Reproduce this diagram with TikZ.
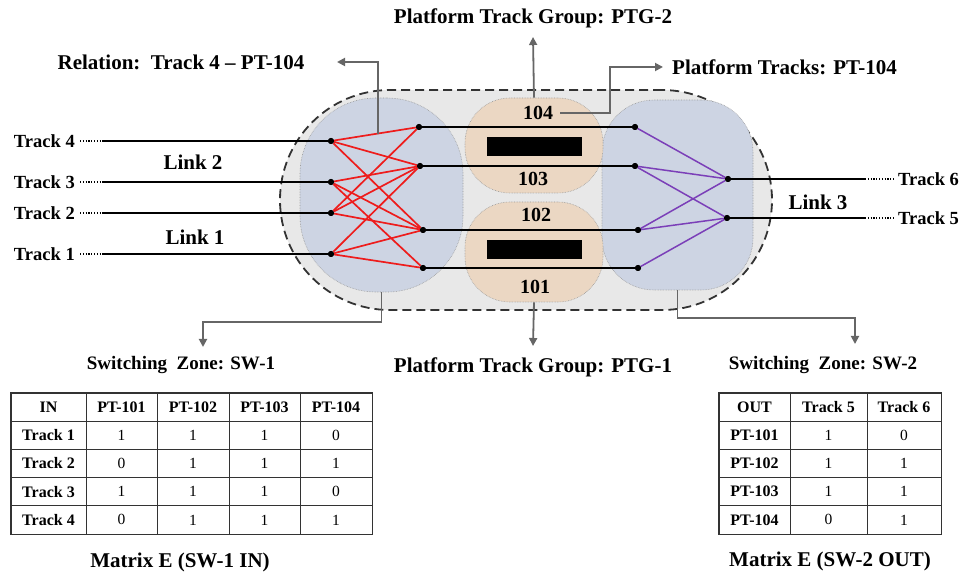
\documentclass[tikz,border=0pt]{standalone}
\usepackage{fontspec}
\setmainfont{Liberation Serif}
\usetikzlibrary{arrows.meta,matrix,calc}
\definecolor{stad}{HTML}{E8E8E8}
\definecolor{zone}{HTML}{CDD4E3}
\definecolor{ptgc}{HTML}{EBD7C3}
\definecolor{redl}{HTML}{EE1C1C}
\definecolor{purp}{HTML}{7B3FB8}
\definecolor{annot}{HTML}{666666}
\definecolor{tblc}{HTML}{333333}
\newcommand\myTh{\fontsize{16}{18}\selectfont\bfseries}
\newcommand\myTd{\fontsize{15.5}{17}\selectfont}
\newcommand\myTitle{\fontsize{21}{23}\selectfont\bfseries}
\begin{document}
\begin{tikzpicture}[x=1pt,y=-1pt,
  lbl/.style={font=\fontsize{#1}{#1}\selectfont\bfseries, inner sep=1pt},
  lbl/.default=21,
  dot/.style={circle, fill=black, inner sep=0pt, minimum size=6pt},
  track/.style={line width=1.8pt, black},
  dotline/.style={line width=1.6pt, dash pattern=on 1.2pt off 1.6pt},
  redlink/.style={line width=1.7pt, redl},
  purplink/.style={line width=1.5pt, purp},
  annotarrow/.style={line width=1.8pt, annot, -{Triangle[length=8pt,width=8pt]}},
  zonebox/.style={fill=zone, draw=gray!80, densely dotted, line width=0.6pt},
  ptgbox/.style={fill=ptgc, draw=gray!80, densely dotted, line width=0.6pt, rounded corners=45pt},
  bar/.style={fill=black, inner sep=0pt, minimum width=95pt, minimum height=19pt},
  tbl/.style={matrix of nodes, draw=tblc, line width=1.2pt, inner sep=0pt,
    column sep=-0.9pt, row sep=-0.9pt,
    nodes={draw=tblc, line width=0.9pt, minimum height=28.2pt, inner sep=0pt, anchor=center, font=\myTd},
    row 1/.style={nodes={font=\myTh}}}
]
\useasboundingbox (0,0) rectangle (962,572);

% yard outline
\node[draw=black!80, fill=stad, dashed, dash pattern=on 9pt off 5pt, line width=1.8pt,
  rounded corners=110pt, minimum width=492pt, minimum height=220pt, inner sep=0pt] (yard) at (526,200) {};

% zones
\node[zonebox, rounded corners=76pt, minimum width=163pt, minimum height=194pt, inner sep=0pt] (SW1) at (381.5,195) {};
\node[zonebox, rounded corners=52pt, minimum width=151pt, minimum height=190pt, inner sep=0pt] (SW2) at (677.5,195) {};
\node[ptgbox, minimum width=138pt, minimum height=95pt, inner sep=0pt] (PTG2) at (534,145.5) {};
\node[ptgbox, minimum width=138pt, minimum height=100pt, inner sep=0pt] (PTG1) at (534,252) {};
\node[bar] (bar2) at (534.5,146.5) {};
\node[bar] (bar1) at (534.5,249.5) {};

\node[lbl=20] (n104) at (538,113) {104};
\node[lbl=20] (n103) at (533,179) {103};
\node[lbl=20] (n102) at (536,215) {102};
\node[lbl=20] (n101) at (535,287) {101};

% dots
\node[dot] (L4) at (331,141) {};
\node[dot] (L3) at (331,182) {};
\node[dot] (L2) at (331,213) {};
\node[dot] (L1) at (331,254) {};
\node[dot] (P4) at (419,127) {};
\node[dot] (P3) at (420,166) {};
\node[dot] (P2) at (423,230) {};
\node[dot] (P1) at (423,268) {};
\node[dot] (Q4) at (635,127) {};
\node[dot] (Q3) at (635,166) {};
\node[dot] (Q2) at (638,230) {};
\node[dot] (Q1) at (638,268) {};
\node[dot] (R6) at (728,179) {};
\node[dot] (R5) at (727,218) {};

% platform track lines
\draw[track] (P4) -- (Q4);
\draw[track] (P3) -- (Q3);
\draw[track] (P2) -- (Q2);
\draw[track] (P1) -- (Q1);

% left tracks
\node[lbl=18.5, anchor=east] (T4) at (76,141) {Track 4};
\node[lbl=18.5, anchor=east] (T3) at (76,182) {Track 3};
\node[lbl=18.5, anchor=east] (T2) at (76,213) {Track 2};
\node[lbl=18.5, anchor=east] (T1) at (76,254) {Track 1};
\coordinate (t4s) at (103,141);
\coordinate (t3s) at (103,182);
\coordinate (t2s) at (103,213);
\coordinate (t1s) at (103,254);
\foreach \i in {1,2,3,4}{
  \draw[track] (t\i s) -- (L\i);
  \draw[dotline] ([xshift=4pt]T\i.east) -- (t\i s);
}

% right tracks
\node[lbl=18.5, anchor=west] (T6) at (897,179) {Track 6};
\node[lbl=18.5, anchor=west] (T5) at (897,218) {Track 5};
\coordinate (t6s) at (865,179);
\coordinate (t5s) at (865,218);
\draw[track] (R6) -- (t6s);
\draw[track] (R5) -- (t5s);
\draw[dotline] (t6s) -- ([xshift=-3pt]T6.west);
\draw[dotline] (t5s) -- ([xshift=-3pt]T5.west);

% red links (SW-1)
\foreach \a/\b in {L1/P1,L1/P2,L1/P3,L2/P2,L2/P3,L2/P4,L3/P1,L3/P2,L3/P3,L4/P2,L4/P3,L4/P4}
  \draw[redlink] (\a) -- (\b);
% purple links (SW-2)
\foreach \a/\b in {Q1/R5,Q2/R5,Q2/R6,Q3/R5,Q3/R6,Q4/R6}
  \draw[purplink] (\a) -- (\b);
% redraw dots on top
\foreach \d in {L1,L2,L3,L4,P1,P2,P3,P4,Q1,Q2,Q3,Q4,R5,R6}
  \fill (\d) circle (3pt);

% link labels
\node[lbl] (link2) at (193,162) {Link 2};
\node[lbl] (link1) at (195,237) {Link 1};
\node[lbl] (link3) at (818,202) {Link 3};

% annotations
\node[lbl] (rellbl) at (181,62) {Relation:\ \ Track 4 – PT-104};
\coordinate (relpt) at ($(L4)!0.535!(P4)$);
\coordinate (reltip) at (337,62);
\draw[annotarrow] (relpt) |- (reltip);

\node[lbl] (ptg2lbl) at (533,18) {Platform Track Group: PTG-2};
\coordinate (ptg2tip) at (533,37);
\draw[annotarrow] (PTG2.north) -- (ptg2tip);

\node[lbl, anchor=west] (ptlbl) at (671,67) {Platform Tracks: PT-104};
\coordinate (pttip) at (663,67);
\draw[annotarrow] ([xshift=6pt]n104.east) -- ++(50,0) |- (pttip);

\node[lbl=19] (sw1lbl) at (181,365) {Switching\ \ Zone: SW-1};
\coordinate (sw1tip) at (203,347);
\draw[annotarrow] (SW1.south) -- ++(0,30) -| (sw1tip);

\node[lbl] (ptg1lbl) at (533,367) {Platform Track Group: PTG-1};
\coordinate (ptg1tip) at (533,346);
\draw[annotarrow] (PTG1.south) -- (ptg1tip);

\node[lbl=19] (sw2lbl) at (823,365) {Switching\ \ Zone: SW-2};
\coordinate (sw2tip) at (855,344);
\draw[annotarrow] (SW2.south) -- ++(0,28) -| (sw2tip);

% tables
\matrix (E1) at (191.5,463.5) [tbl,
  column 1/.style={nodes={minimum width=75pt, font=\myTh}},
  column 2/.style={nodes={minimum width=71pt}},
  column 3/.style={nodes={minimum width=72pt}},
  column 4/.style={nodes={minimum width=71pt}},
  column 5/.style={nodes={minimum width=72pt}}]
{ IN & PT-101 & PT-102 & PT-103 & PT-104 \\
  Track 1 & 1 & 1 & 1 & 0 \\
  Track 2 & 0 & 1 & 1 & 1 \\
  Track 3 & 1 & 1 & 1 & 0 \\
  Track 4 & 0 & 1 & 1 & 1 \\
};
\node[font=\myTitle] (E1title) at (180,562) {Matrix E (SW-1 IN)};

\matrix (E2) at (830,463.5) [tbl,
  column 1/.style={nodes={minimum width=71pt, font=\myTh}},
  column 2/.style={nodes={minimum width=77pt}},
  column 3/.style={nodes={minimum width=74pt}}]
{ OUT & Track 5 & Track 6 \\
  PT-101 & 1 & 0 \\
  PT-102 & 1 & 1 \\
  PT-103 & 1 & 1 \\
  PT-104 & 0 & 1 \\
};
\node[font=\myTitle] (E2title) at (830,561) {Matrix E (SW-2 OUT)};
\end{tikzpicture}
\end{document}
